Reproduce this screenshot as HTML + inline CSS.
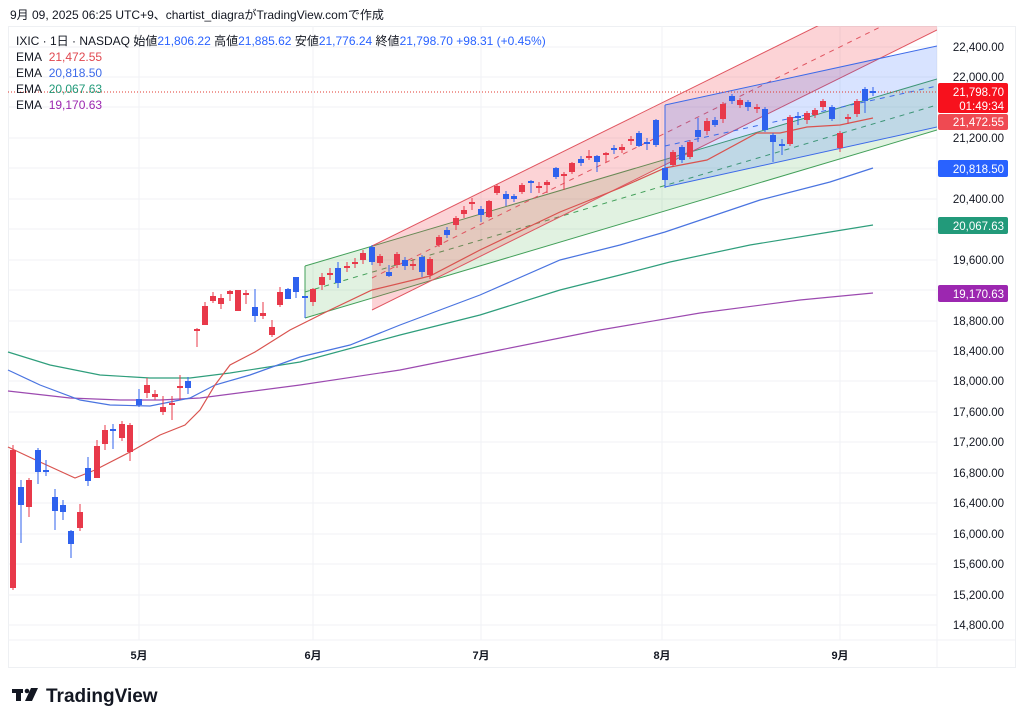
<!DOCTYPE html>
<html><head><meta charset="utf-8">
<style>
body{margin:0;background:#fff;width:1024px;height:724px;overflow:hidden;font-family:"Liberation Sans","Noto Sans CJK JP",sans-serif;}
svg{position:absolute;left:0;top:0}
</style></head><body>
<svg id="s" width="1024" height="724" xmlns="http://www.w3.org/2000/svg" font-family="Liberation Sans, Noto Sans CJK JP, sans-serif">
<defs><clipPath id="c"><rect x="8" y="26" width="929" height="614"/></clipPath></defs>
<rect x="8.5" y="26.5" width="1007" height="641" fill="none" stroke="#eef0f3"/>
<g stroke="#f0f2f5" stroke-width="1">
<line x1="8" y1="47" x2="937" y2="47"/><line x1="8" y1="77" x2="937" y2="77"/><line x1="8" y1="107" x2="937" y2="107"/><line x1="8" y1="138" x2="937" y2="138"/><line x1="8" y1="168" x2="937" y2="168"/><line x1="8" y1="199" x2="937" y2="199"/><line x1="8" y1="229" x2="937" y2="229"/><line x1="8" y1="260" x2="937" y2="260"/><line x1="8" y1="290" x2="937" y2="290"/><line x1="8" y1="321" x2="937" y2="321"/><line x1="8" y1="351" x2="937" y2="351"/><line x1="8" y1="381" x2="937" y2="381"/><line x1="8" y1="412" x2="937" y2="412"/><line x1="8" y1="442" x2="937" y2="442"/><line x1="8" y1="473" x2="937" y2="473"/><line x1="8" y1="503" x2="937" y2="503"/><line x1="8" y1="534" x2="937" y2="534"/><line x1="8" y1="564" x2="937" y2="564"/><line x1="8" y1="595" x2="937" y2="595"/><line x1="8" y1="625" x2="937" y2="625"/>
<line x1="139" y1="26" x2="139" y2="640"/><line x1="313" y1="26" x2="313" y2="640"/><line x1="481" y1="26" x2="481" y2="640"/><line x1="662" y1="26" x2="662" y2="640"/><line x1="840" y1="26" x2="840" y2="640"/>
<line x1="937" y1="26" x2="937" y2="667"/><line x1="8" y1="640" x2="1015" y2="640"/>
</g>
<g clip-path="url(#c)">
<polygon points="305,266 937,79 937,130 305,318" fill="rgba(76,175,80,0.17)"/>
<polyline points="305,266 937,79" fill="none" stroke="#43a05a" stroke-width="1"/>
<polyline points="305,318 937,130" fill="none" stroke="#43a05a" stroke-width="1"/>
<line x1="305" y1="266" x2="305" y2="318" stroke="#43a05a"/>
<line x1="305" y1="292" x2="937" y2="105" stroke="#43a05a" stroke-dasharray="5,5"/>
<polygon points="372,246 937,-33 937,30 372,310" fill="rgba(242,54,69,0.22)"/>
<line x1="372" y1="246" x2="937" y2="-33" stroke="#e05560"/>
<line x1="372" y1="310" x2="937" y2="30" stroke="#e05560"/>
<line x1="372" y1="278" x2="937" y2="-1" stroke="#e05560" stroke-dasharray="5,5"/>
<polygon points="665,105 937,46 937,127 665,187" fill="rgba(41,98,255,0.18)"/>
<line x1="665" y1="105" x2="937" y2="46" stroke="#3d6ae8"/>
<line x1="665" y1="187" x2="937" y2="127" stroke="#3d6ae8"/>
<line x1="665" y1="105" x2="665" y2="187" stroke="#3d6ae8"/>
<line x1="665" y1="146" x2="937" y2="86" stroke="#3d6ae8" stroke-dasharray="5,5"/>
</g>
<line x1="8" y1="92" x2="937" y2="92" stroke="#e0392f" stroke-dasharray="1,2"/>
<g fill="none" stroke-width="1.2">
<polyline stroke="#9c4ab0" points="8,391 70,398 120,400 160,400 200,398 300,385 400,370 500,350 600,330 700,313 800,300 873,293"/>
<polyline stroke="#2f9e7c" points="8,352 50,365 100,375 150,378 190,378 230,373 300,362 400,335 480,315 560,290 620,275 670,262 750,245 830,232 873,225"/>
<polyline stroke="#4a74e0" points="8,370 40,385 80,400 110,405 150,406 190,398 215,385 250,375 300,357 350,345 400,325 480,295 560,260 620,245 665,232 760,200 830,182 873,168"/>
<polyline stroke="#d9534f" points="8,447 40,462 75,478 95,470 130,452 160,435 185,425 200,410 215,385 230,365 255,352 290,330 330,310 372,290 430,276 480,250 560,212 620,188 665,168 707,160 757,133 780,133 807,127 840,125 873,118"/>
</g>
<g id="cd"></g>
<g font-size="11.5" fill="#131722" text-anchor="end">
<text x="1004" y="51">22,400.00</text><text x="1004" y="81">22,000.00</text><text x="1004" y="142">21,200.00</text><text x="1004" y="203">20,400.00</text><text x="1004" y="264">19,600.00</text><text x="1004" y="325">18,800.00</text><text x="1004" y="355">18,400.00</text><text x="1004" y="385">18,000.00</text><text x="1004" y="416">17,600.00</text><text x="1004" y="446">17,200.00</text><text x="1004" y="477">16,800.00</text><text x="1004" y="507">16,400.00</text><text x="1004" y="538">16,000.00</text><text x="1004" y="568">15,600.00</text><text x="1004" y="599">15,200.00</text><text x="1004" y="629">14,800.00</text>
</g>
<rect x="938" y="83" width="70" height="30" rx="2" fill="#f7111d"/>
<rect x="938" y="114" width="70" height="16" rx="2" fill="#ef4a52"/>
<rect x="938" y="160" width="70" height="17" rx="2" fill="#2962ff"/>
<rect x="938" y="217" width="70" height="17" rx="2" fill="#229a7a"/>
<rect x="938" y="285" width="70" height="17" rx="2" fill="#9c27b0"/>
<g font-size="11.5" fill="#fff" text-anchor="end">
<text x="1004" y="96">21,798.70</text><text x="1004" y="110">01:49:34</text><text x="1004" y="126">21,472.55</text><text x="1004" y="173">20,818.50</text><text x="1004" y="230">20,067.63</text><text x="1004" y="298">19,170.63</text>
</g>
<g font-size="11" fill="#131722" font-weight="bold" text-anchor="middle">
<text x="139" y="659">5月</text><text x="313" y="659">6月</text><text x="481" y="659">7月</text><text x="662" y="659">8月</text><text x="840" y="659">9月</text>
</g>
<text x="10" y="19" font-size="12" fill="#131722">9月 09, 2025 06:25 UTC+9、chartist_diagraがTradingView.comで作成</text>
<g font-size="12">
<text x="16" y="45" fill="#131722">IXIC · 1日 · NASDAQ  始値<tspan fill="#2962ff">21,806.22</tspan>  高値<tspan fill="#2962ff">21,885.62</tspan>  安値<tspan fill="#2962ff">21,776.24</tspan>  終値<tspan fill="#2962ff">21,798.70</tspan>  <tspan fill="#2962ff">+98.31 (+0.45%)</tspan></text>
<text x="16" y="61" fill="#131722">EMA <tspan fill="#e0474f" dx="4">21,472.55</tspan></text>
<text x="16" y="77" fill="#131722">EMA <tspan fill="#3d6ae8" dx="4">20,818.50</tspan></text>
<text x="16" y="93" fill="#131722">EMA <tspan fill="#229a7a" dx="4">20,067.63</tspan></text>
<text x="16" y="109" fill="#131722">EMA <tspan fill="#9c27b0" dx="4">19,170.63</tspan></text>
</g>
<g fill="#131722"><rect x="12" y="689" width="11" height="4"/><rect x="16" y="689" width="5" height="12"/><circle cx="27" cy="691" r="2.3"/><polygon points="31,688 38,688 32,701 25,701"/></g>
<text x="46" y="702" font-size="19" font-weight="bold" fill="#131722">TradingView</text>
</svg>
<script>
var R="#e8394a",B="#2f62ee";
var d=[[13,450,588,445,590,R],[21,487,505,480,543,B],[29,480,507,478,517,R],[38,450,472,448,484,B],[46,470,472,460,476,B],[55,497,511,489,530,B],[63,505,512,500,520,B],[71,531,544,530,558,B],[80,512,528,504,531,R],[88,468,481,457,486,B],[97,446,478,440,478,R],[105,430,444,425,450,R],[113,429,431,424,449,B],[122,424,438,421,441,R],[130,425,452,423,461,R],
[139,399,405,389,407,B],[147,385,393,378,398,R],[155,394,397,390,400,R],[163,407,412,396,415,R],[172,403,405,396,420,R],[180,386,388,375,400,R],[188,381,388,377,394,B],
[197,329,331,328,347,R],[205,306,325,302,325,R],[213,296,301,292,303,R],[221,298,304,294,309,R],[230,291,294,290,301,R],[238,290,311,290,311,R],[246,293,295,290,304,R],[255,307,316,289,322,B],[263,313,316,302,319,R],[272,327,335,320,337,R],[280,292,305,287,307,R],[288,289,299,288,299,B],[296,277,292,277,298,B],
[305,296,298,296,318,B],[313,289,302,288,306,R],[322,277,285,273,290,R],[330,273,275,268,280,R],[338,268,283,262,288,B],[347,266,268,262,272,R],[355,262,264,258,268,R],[363,253,260,250,264,R],[372,247,262,245,265,B],[380,256,263,254,266,R],[389,272,276,265,277,B],[397,254,265,252,268,R],[405,260,266,257,270,B],[413,264,266,259,270,R],[422,257,272,255,277,B],[430,259,275,257,279,R],
[439,237,245,235,247,R],[447,230,235,227,238,B],[456,218,225,216,230,R],[464,210,214,206,218,R],[472,202,204,198,210,R],[481,209,215,206,222,B],[489,201,217,200,218,R],[497,186,193,184,195,R],[506,194,199,191,206,B],[514,196,199,194,202,B],[522,185,192,183,194,R],[531,181,183,180,193,B],[539,186,188,182,193,R],[547,182,185,180,193,R],[556,168,177,167,179,B],[564,174,176,172,190,R],[572,163,172,162,174,R],[581,159,163,156,166,B],[589,156,158,150,160,R],[597,156,162,155,172,B],[606,153,155,152,162,R],[614,148,150,145,154,B],[622,147,150,144,153,R],[631,139,141,136,145,R],[639,133,146,131,147,B],[647,142,144,138,150,B],[656,120,145,119,147,B],
[665,168,180,166,188,B],[673,152,165,150,167,R],[682,147,160,145,163,B],[690,142,157,140,159,R],[698,130,137,118,142,B],[707,121,131,118,135,R],[715,120,125,117,127,B],[723,104,119,102,123,R],[732,96,101,94,104,B],[740,100,105,98,108,R],[748,102,107,100,111,B],[757,107,109,104,113,R],[765,109,130,107,132,B],[773,135,142,133,162,B],[782,144,146,139,155,B],[790,117,144,115,146,R],[798,116,118,112,125,B],[807,113,120,111,124,R],[815,110,115,108,118,R],[823,101,107,99,110,R],[832,107,119,105,121,B],[840,133,148,131,152,R],[848,117,119,114,124,R],[857,101,114,99,117,R],[865,89,101,87,113,B],[873,91,93,87,96,B]];
var g=document.getElementById("cd"),s="";
d.forEach(function(c){var t=Math.min(c[1],c[2]),h=Math.max(Math.abs(c[2]-c[1]),1.5);
s+='<line x1="'+c[0]+'" y1="'+c[3]+'" x2="'+c[0]+'" y2="'+c[4]+'" stroke="'+c[5]+'" stroke-width="1"/><rect x="'+(c[0]-3)+'" y="'+t+'" width="6" height="'+h+'" fill="'+c[5]+'"/>';});
g.innerHTML=s;
</script>
</body></html>
